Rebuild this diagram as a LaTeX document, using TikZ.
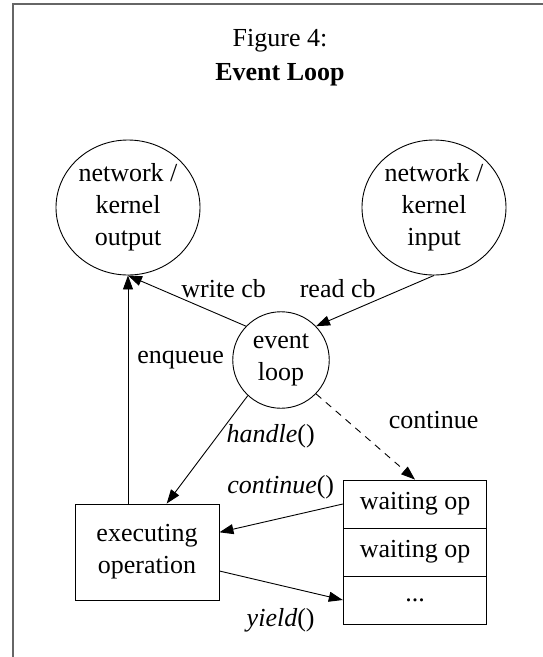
\documentclass[tikz,border=0pt]{standalone}
\usepackage{fontspec}
\setmainfont{Liberation Serif}
\usetikzlibrary{arrows.meta,shapes.geometric}
\begin{document}
\begin{tikzpicture}[x=1pt,y=-1pt,
  every node/.style={font=\fontsize{26}{32}\selectfont, align=center, inner sep=0pt},
  elli/.style={draw, ellipse, minimum width=144pt, minimum height=135pt, line width=0.9pt},
  circ/.style={draw, circle, minimum size=96.5pt, line width=0.9pt},
  opbox/.style={draw, rectangle, minimum width=144pt, minimum height=96pt, line width=0.9pt},
  slot/.style={draw, rectangle, minimum width=143.5pt, minimum height=48pt, line width=0.9pt},
  conn/.style={line width=0.9pt, -{Triangle[length=14pt,width=10pt]}},
  frame/.style={draw=black!60, line width=1.6pt}
]
\useasboundingbox (0,0) rectangle (543,657);
\draw[frame] (13.2,657) -- (13.2,3.8) -- (543,3.8);

\node[font=\fontsize{26}{34}\selectfont] (title) at (280,58) {Figure 4:\\\textbf{Event Loop}};

\node[elli] (out) at (128,207.5) {network /\\kernel\\output};
\node[elli] (in) at (434,207.5) {network /\\kernel\\input};
\node[circ] (ev) at (281,360) {event\\loop};
\node[opbox] (exe) at (147,552) {executing\\operation};
\node[slot] (w1) at (415,504) {waiting op};
\node[slot] (w2) at (415,552) {waiting op};
\node[slot] (w3) at (415,600) {...};

\draw[conn] (ev.136) -- (out.south);
\draw[conn] (in.south) -- (ev.44);
\draw[conn] (exe.north -| out.south) -- (out.south);
\draw[conn] (ev.-133) -- ([xshift=19.7pt]exe.north);
\draw[conn, dash pattern=on 7pt off 6pt] (ev.-44.5) -- (w1.north);
\draw[conn] (w1.west) -- ([yshift=19.7pt]exe.east);
\draw[conn] ([yshift=-19pt]exe.east) -- (w3.west);

\node (lwrite) at (223.7,288.3) {write cb};
\node (lread) at (337.7,288.3) {read cb};
\node (lenq) at (180.7,360) {enqueue};
\node (lhandle) at (270.7,436) {\textit{handle}()};
\node (lcont) at (433.7,420) {continue};
\node (lcontf) at (280.7,487.5) {\textit{continue}()};
\node (lyield) at (280.7,620) {\textit{yield}()};
\end{tikzpicture}
\end{document}
